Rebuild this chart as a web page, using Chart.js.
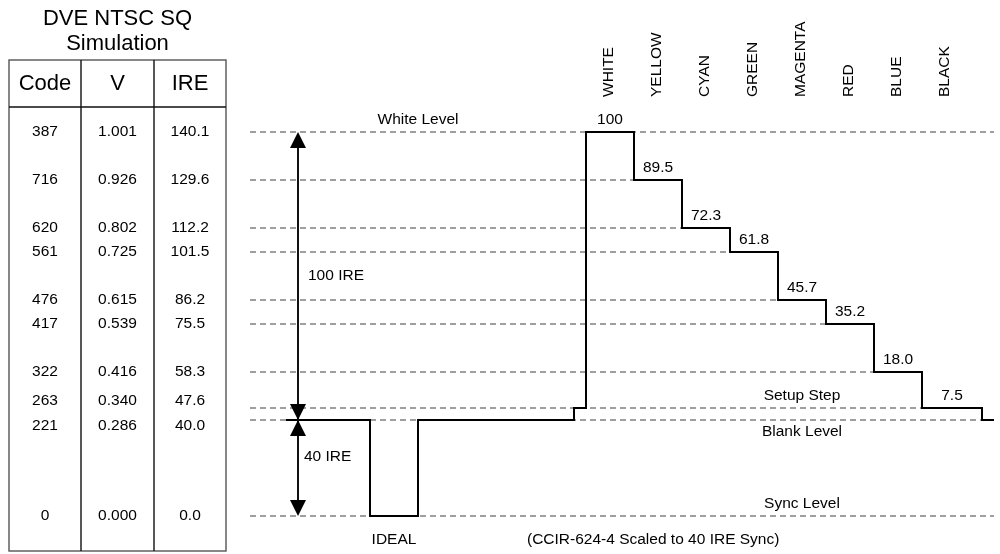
<!DOCTYPE html>
<html>
<head>
<meta charset="utf-8">
<title>DVE NTSC SQ Simulation</title>
<script src="https://cdn.jsdelivr.net/npm/chart.js@4"></script>
<style>
  html, body { margin: 0; padding: 0; background: #fff; }
  #wrap { width: 1000px; height: 554px; }
</style>
</head>
<body>
<div id="wrap"><canvas id="ntscChart" width="1000" height="554"></canvas></div>
<script>
// colour bars, NTSC IRE (blank = 0)
const barNames = ['WHITE', 'YELLOW', 'CYAN', 'GREEN', 'MAGENTA', 'RED', 'BLUE', 'BLACK'];
const barLevels = [100, 89.5, 72.3, 61.8, 45.7, 35.2, 18.0, 7.5];
const barStart = [28, 32, 36, 40, 44, 48, 52, 56];
const barEnd = [32, 36, 40, 44, 48, 52, 56, 61];

// the waveform, time in grid units; each value holds until the next point
const waveTime = [3, 10, 14, 27, 28, 32, 36, 40, 44, 48, 52, 56, 61, 62];
const waveIre = [0, -40, 0, 7.5, 100, 89.5, 72.3, 61.8, 45.7, 35.2, 18.0, 7.5, 0, 0];

// table rows: waveform level and its simulated code / volts / IRE
const levelIre = [100, 89.5, 72.3, 61.8, 45.7, 35.2, 18.0, 7.5, 0, -40];
const simCode = [387, 716, 620, 561, 476, 417, 322, 263, 221, 0];
const simVolt = [1.001, 0.926, 0.802, 0.725, 0.615, 0.539, 0.416, 0.340, 0.286, 0.000];
const simIre = [140.1, 129.6, 112.2, 101.5, 86.2, 75.5, 58.3, 47.6, 40.0, 0.0];

const timeMax = 62;

// the drawing is not to scale: each level sits on its own row of the grid
const rowSlots = [0, 4, 8, 10, 14, 16, 20, 23, 24, 32];
const slotCount = 32;

const LinearScale = Chart.LinearScale || Chart.registry.getScale('linear');

class SchematicScale extends LinearScale {
  getPixelForValue(value) {
    let slot = value >= levelIre[0] ? rowSlots[0] : rowSlots[rowSlots.length - 1];
    for (let i = 0; i < levelIre.length - 1; i++) {
      const v0 = levelIre[i], v1 = levelIre[i + 1];
      if (value <= v0 && value >= v1) {
        slot = rowSlots[i] + (v0 - value) / (v0 - v1) * (rowSlots[i + 1] - rowSlots[i]);
        break;
      }
    }
    return this.getPixelForDecimal(1 - slot / slotCount);
  }
}
SchematicScale.id = 'schematic';
SchematicScale.defaults = {};
Chart.register(SchematicScale);

const FONT = '"Liberation Sans", Arial, sans-serif';

function arrowHead(ctx, x, tipY, dir) {
  // dir -1 points up, +1 points down
  ctx.beginPath();
  ctx.moveTo(x, tipY);
  ctx.lineTo(x - 8, tipY - dir * 16);
  ctx.lineTo(x + 8, tipY - dir * 16);
  ctx.closePath();
  ctx.fill();
}

const drawingPlugin = {
  id: 'drawing',
  afterDraw(chart) {
    const ctx = chart.ctx;
    const px = v => chart.scales.x.getPixelForValue(v);
    const py = v => chart.scales.y.getPixelForValue(v);
    ctx.save();
    ctx.fillStyle = '#000';
    ctx.strokeStyle = '#000';
    ctx.textBaseline = 'middle';

    // --- table on the left
    const tl = 9, tr = 226, tt = 60, th = 107, tb = 551;
    const c1 = 81, c2 = 154;
    ctx.font = '22px ' + FONT;
    ctx.textAlign = 'center';
    ctx.fillText('DVE NTSC SQ', (tl + tr) / 2, 19);
    ctx.fillText('Simulation', (tl + tr) / 2, 44);
    ctx.fillText('Code', (tl + c1) / 2, 84);
    ctx.fillText('V', (c1 + c2) / 2, 84);
    ctx.fillText('IRE', (c2 + tr) / 2, 84);

    ctx.lineWidth = 1.4;
    ctx.strokeStyle = '#555';
    ctx.strokeRect(tl, tt, tr - tl, tb - tt);
    ctx.strokeStyle = '#111';
    ctx.beginPath();
    ctx.moveTo(tl, th); ctx.lineTo(tr, th);
    ctx.moveTo(c1, tt); ctx.lineTo(c1, tb);
    ctx.moveTo(c2, tt); ctx.lineTo(c2, tb);
    ctx.stroke();

    const rowY = levelIre.map(py);
    for (let i = 0; i < rowY.length - 1; i++) {
      if (rowY[i + 1] - rowY[i] < 20) {
        const mid = (rowY[i] + rowY[i + 1]) / 2 - 1;
        rowY[i] = mid - 12.5;
        rowY[i + 1] = mid + 12.5;
      }
    }
    ctx.font = '15.5px ' + FONT;
    rowY.forEach((yy, i) => {
      ctx.fillText(String(simCode[i]), (tl + c1) / 2, yy);
      ctx.fillText(simVolt[i].toFixed(3), (c1 + c2) / 2, yy);
      ctx.fillText(simIre[i].toFixed(1), (c2 + tr) / 2, yy);
    });

    // --- bar values and colour names
    barLevels.forEach((v, i) => {
      const t = v >= 100 ? String(v) : v.toFixed(1);
      ctx.fillText(t, (px(barStart[i]) + px(barEnd[i])) / 2, py(v) - 12);
    });
    barNames.forEach((n, i) => {
      ctx.save();
      ctx.translate(px(barStart[i] + 2) - 1.5, 97);
      ctx.rotate(-Math.PI / 2);
      ctx.textAlign = 'left';
      ctx.fillText(n, 0, 0);
      ctx.restore();
    });

    // --- level names
    ctx.fillText('White Level', px(14), py(100) - 12);
    ctx.fillText('Setup Step', px(46), py(7.5) - 12);
    ctx.fillText('Blank Level', px(46), py(0) + 12);
    ctx.fillText('Sync Level', px(46), py(-40) - 12);
    ctx.fillText('IDEAL', (px(waveTime[1]) + px(waveTime[2])) / 2, 540);
    ctx.fillText('(CCIR-624-4 Scaled to 40 IRE Sync)', px(33.6), 540);

    // --- dimension arrows
    const ax = px(4);
    ctx.lineWidth = 2;
    ctx.beginPath();
    ctx.moveTo(ax, py(100) + 4);
    ctx.lineTo(ax, py(-40) - 4);
    ctx.stroke();
    arrowHead(ctx, ax, py(100), -1);
    arrowHead(ctx, ax, py(0), 1);
    arrowHead(ctx, ax, py(0), -1);
    arrowHead(ctx, ax, py(-40), 1);
    ctx.textAlign = 'left';
    ctx.fillText('100 IRE', ax + 10, (py(100) + py(0)) / 2);
    ctx.fillText('40 IRE', ax + 6, py(0) + 37);

    ctx.restore();
  }
};

const waveData = waveTime.map((t, i) => ({ x: t, y: waveIre[i] }));

const levelDatasets = levelIre.map((v) => {
  const k = barLevels.indexOf(v);
  const end = k > 0 ? barStart[k] : timeMax;
  return {
    data: [{ x: 0, y: v }, { x: end, y: v }],
    borderColor: '#808080',
    borderWidth: 1.5,
    borderDash: [6, 4],
    pointRadius: 0,
    fill: false,
    clip: false,
    order: 2
  };
});

const ctx = document.getElementById('ntscChart').getContext('2d');
const ntscChart = new Chart(ctx, {
  type: 'line',
  data: {
    datasets: [{
      data: waveData,
      stepped: true,
      borderColor: '#000',
      borderWidth: 2,
      pointRadius: 0,
      fill: false,
      clip: false,
      order: 0
    }].concat(levelDatasets)
  },
  options: {
    responsive: false,
    animation: false,
    events: [],
    layout: { padding: { left: 250, right: 6, top: 132, bottom: 38 } },
    plugins: {
      legend: { display: false },
      tooltip: { enabled: false }
    },
    scales: {
      x: { type: 'linear', min: 0, max: timeMax, display: false },
      y: { type: 'schematic', min: -40, max: 100, display: false }
    }
  },
  plugins: [drawingPlugin]
});
</script>
</body>
</html>
